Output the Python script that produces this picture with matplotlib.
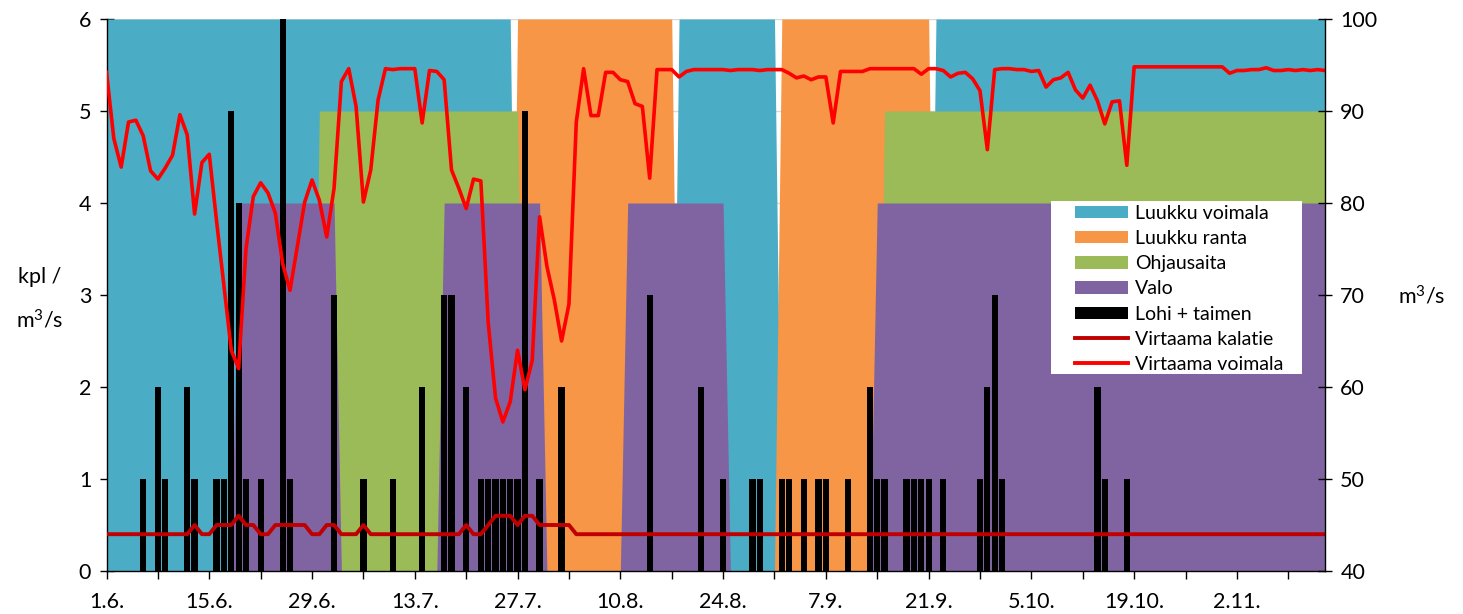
import matplotlib
matplotlib.use('Agg')
import matplotlib.pyplot as plt
from matplotlib.patches import Patch, Rectangle
from matplotlib.lines import Line2D
import numpy as np

plt.rcParams['font.family'] = ['Lato', 'DejaVu Sans']
plt.rcParams['mathtext.default'] = 'regular'

# ---------------- data ----------------
n_days = 167                      # day 0 = 1.6., day 166 = 14.11.
days = np.arange(n_days)

tick_days = list(range(0, 162, 7))
tick_labels = ['1.6.', '', '15.6.', '', '29.6.', '', '13.7.', '', '27.7.', '',
               '10.8.', '', '24.8.', '', '7.9.', '', '21.9.', '', '5.10.', '',
               '19.10.', '', '2.11.', '']

# active periods (first day, last day) of each arrangement
luukku_voimala_periods = [(0, 55), (78, 91), (113, 166)]
luukku_ranta_periods = [(56, 77), (92, 112)]
ohjausaita_periods = [(29, 56), (106, 166)]
valo_periods = [(18, 31), (46, 59), (71, 84), (105, 166)]
luukku_level = 6
ohjausaita_level = 5
valo_level = 4

# Lohi + taimen counts
fish_days = [5, 7, 8, 11, 12, 15, 16, 17, 18, 19, 21, 24, 25, 31, 35,
             39, 43, 46, 47, 49, 51, 52, 53, 54, 55, 56, 57, 59, 62, 74,
             81, 84, 88, 89, 92, 93, 95, 97, 98, 101, 104, 105, 106, 109, 110,
             111, 112, 114, 119, 120, 121, 122, 135, 136, 139]
fish_counts = [1, 2, 1, 2, 1, 1, 1, 5, 4, 1, 1, 6, 1, 3, 1,
               1, 2, 3, 3, 2, 1, 1, 1, 1, 1, 1, 5, 1, 2, 3,
               2, 1, 1, 1, 1, 1, 1, 1, 1, 1, 2, 1, 1, 1, 1,
               1, 1, 1, 1, 2, 3, 1, 2, 1, 1]

# Virtaama kalatie (m3/s)
virtaama_kalatie = [
    44, 44, 44, 44, 44, 44, 44, 44, 44, 44,
    44, 44, 45, 44, 44, 45, 45, 45, 46, 45,
    45, 44, 44, 45, 45, 45, 45, 45, 44, 44,
    45, 45, 44, 44, 44, 45, 44, 44, 44, 44,
    44, 44, 44, 44, 44, 44, 44, 44, 44, 45,
    44, 44, 45, 46, 46, 46, 45, 46, 46, 45,
    45, 45, 45, 45, 44, 44, 44, 44, 44, 44,
    44, 44, 44, 44, 44, 44, 44, 44, 44, 44,
    44, 44, 44, 44, 44, 44, 44, 44, 44, 44,
    44, 44, 44, 44, 44, 44, 44, 44, 44, 44,
    44, 44, 44, 44, 44, 44, 44, 44, 44, 44,
    44, 44, 44, 44, 44, 44, 44, 44, 44, 44,
    44, 44, 44, 44, 44, 44, 44, 44, 44, 44,
    44, 44, 44, 44, 44, 44, 44, 44, 44, 44,
    44, 44, 44, 44, 44, 44, 44, 44, 44, 44,
    44, 44, 44, 44, 44, 44, 44, 44, 44, 44,
    44, 44, 44, 44, 44, 44, 44]

# Virtaama voimala (m3/s)
virtaama_voimala = [
    94.2, 87.0, 83.9, 88.8, 89.0, 87.3, 83.5, 82.6, 83.8, 85.2,
    89.6, 87.4, 78.8, 84.4, 85.3, 78.0, 71.0, 64.0, 62.0, 75.0,
    80.7, 82.2, 81.1, 78.9, 73.4, 70.5, 75.3, 80.1, 82.5, 80.3,
    76.3, 81.6, 93.2, 94.6, 90.5, 80.1, 83.6, 91.2, 94.6, 94.5,
    94.6, 94.6, 94.6, 88.7, 94.4, 94.3, 93.4, 83.6, 81.6, 79.4,
    82.6, 82.4, 67.0, 58.8, 56.2, 58.4, 64.0, 59.7, 62.9, 78.5,
    73.1, 69.5, 65.0, 69.0, 88.8, 94.6, 89.5, 89.5, 94.2, 94.2,
    93.4, 93.2, 90.8, 90.5, 82.7, 94.5, 94.5, 94.5, 93.7, 94.3,
    94.5, 94.5, 94.5, 94.5, 94.5, 94.4, 94.5, 94.5, 94.5, 94.4,
    94.5, 94.5, 94.5, 94.1, 93.6, 93.8, 93.4, 93.7, 93.7, 88.7,
    94.3, 94.3, 94.3, 94.3, 94.6, 94.6, 94.6, 94.6, 94.6, 94.6,
    94.6, 94.0, 94.6, 94.6, 94.4, 93.7, 94.1, 94.2, 93.5, 92.2,
    85.8, 94.5, 94.6, 94.6, 94.5, 94.5, 94.3, 94.4, 92.6, 93.4,
    93.6, 94.2, 92.3, 91.4, 92.8, 91.1, 88.6, 91.0, 91.1, 84.1,
    94.8, 94.8, 94.8, 94.8, 94.8, 94.8, 94.8, 94.8, 94.8, 94.8,
    94.8, 94.8, 94.8, 94.1, 94.4, 94.4, 94.5, 94.5, 94.7, 94.4,
    94.4, 94.5, 94.4, 94.5, 94.4, 94.5, 94.4]

labels = ['Luukku voimala', 'Luukku ranta', 'Ohjausaita', 'Valo',
          'Lohi + taimen', 'Virtaama kalatie', 'Virtaama voimala']
colors = ['#4BACC6', '#F79646', '#9BBB59', '#8064A2', '#000000',
          '#C00000', '#FF0000']


def series_from_periods(periods, level):
    s = np.zeros(n_days)
    for a, b in periods:
        s[a:b + 1] = level
    return s


# ---------------- figure ----------------
W, H = 1463, 614
fig = plt.figure(figsize=(W / 100, H / 100), dpi=100)
x0, x1, ytop, ybot = 106.5, 1325, 19, 571
ax = fig.add_axes([x0 / W, 1 - ybot / H, (x1 - x0) / W, (ybot - ytop) / H])

ax.set_axisbelow(True)
ax.grid(axis='y', color='#D9D9D9', linewidth=1.0, zorder=0)

area_data = [
    series_from_periods(luukku_voimala_periods, luukku_level),
    series_from_periods(luukku_ranta_periods, luukku_level),
    series_from_periods(ohjausaita_periods, ohjausaita_level),
    series_from_periods(valo_periods, valo_level),
]
for s, c in zip(area_data, colors[:4]):
    ax.fill_between(days, 0, s, color=c, linewidth=0, zorder=1)

ax.bar(fish_days, fish_counts, width=0.85, color='black', zorder=2,
       linewidth=0)

ax.set_xlim(0, n_days - 1)
ax.set_ylim(0, 6)
ax.set_yticks(range(0, 7))
ax.set_xticks(tick_days)
ax.set_xticklabels(tick_labels)
ax.tick_params(axis='y', direction='inout', length=10, width=1,
               labelsize=15.5, pad=6)
ax.tick_params(axis='x', direction='out', length=6, width=1,
               labelsize=15.5, pad=9)
for sp in ['top', 'right']:
    ax.spines[sp].set_visible(False)
for sp in ['left', 'bottom']:
    ax.spines[sp].set_color('black')
    ax.spines[sp].set_linewidth(1.0)

ax2 = ax.twinx()
ax2.patch.set_visible(False)
ax2.plot(days, virtaama_kalatie, color=colors[5], linewidth=2.8,
         solid_joinstyle='round')
ax2.plot(days, virtaama_voimala, color=colors[6], linewidth=2.6,
         solid_joinstyle='round')
ax2.set_ylim(40, 100)
ax2.set_yticks(range(40, 101, 10))
ax2.tick_params(axis='y', direction='inout', length=10, width=1,
                labelsize=15.5, pad=6)
for sp in ['top', 'left', 'bottom']:
    ax2.spines[sp].set_visible(False)
ax2.spines['right'].set_color('black')
ax2.spines['right'].set_linewidth(1.0)

fig.text(40 / W, 1 - 277 / H, 'kpl /', ha='center', va='center', fontsize=15.5)
fig.text(40 / W, 1 - 320 / H, 'm$^3$/s', ha='center', va='center', fontsize=15.5)
fig.text(1422 / W, 1 - 296 / H, 'm$^3$/s', ha='center', va='center', fontsize=15.5)

# legend background box
ax2.add_patch(Rectangle((1051 / W, 1 - 374 / H), (1302 - 1051) / W,
                        (374 - 201) / H, transform=fig.transFigure,
                        facecolor='white', edgecolor='none', zorder=4,
                        clip_on=False))

handles = [Patch(facecolor=c, edgecolor='none') for c in colors[:5]]
handles += [Line2D([], [], color=colors[5], linewidth=2.8),
            Line2D([], [], color=colors[6], linewidth=2.8)]
leg = ax2.legend(handles, labels, loc='upper left',
                 bbox_to_anchor=(1075 / W, 1 - 205 / H),
                 bbox_transform=fig.transFigure, frameon=False,
                 fontsize=14, handlelength=2.7,
                 handleheight=0.6, labelspacing=0.42, borderaxespad=0,
                 borderpad=0.0, handletextpad=0.4)
leg.set_zorder(6)

fig.savefig('out.png', dpi=100)
